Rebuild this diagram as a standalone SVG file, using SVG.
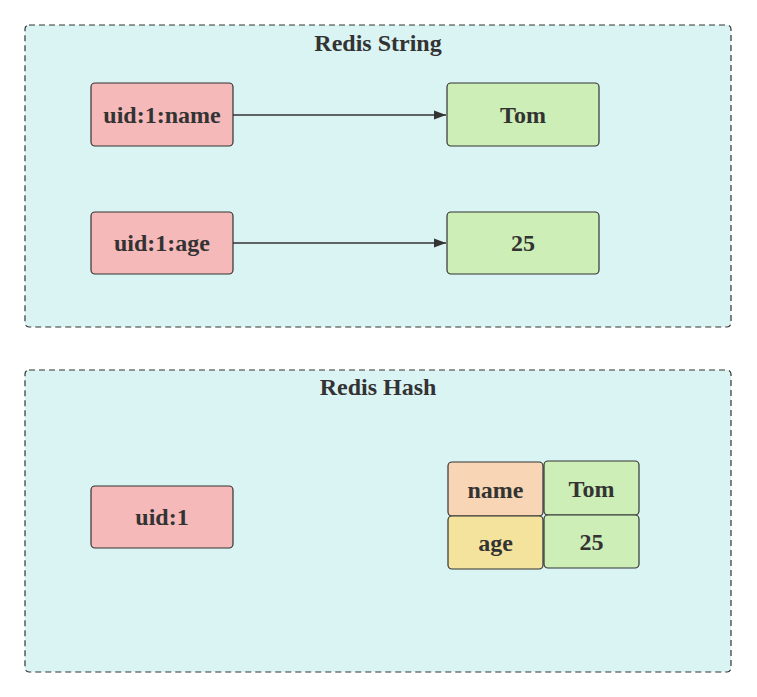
<svg xmlns="http://www.w3.org/2000/svg" width="757" height="697" viewBox="0 0 757 697">
<style>
.cont{fill:#daf4f4;stroke:#333;stroke-width:1.2;stroke-dasharray:6 4}
.node{stroke:#333;stroke-width:1.2}
.pink{fill:#f6b9b9}.green{fill:#cdeeb6}.orange{fill:#f8d5b5}.yellow{fill:#f3e39d}
text{font-family:"Liberation Serif","Times New Roman",serif;font-weight:bold;fill:#333;text-anchor:middle;dominant-baseline:central;font-size:24px}
.edge{stroke:#333;stroke-width:1.5;fill:none}
</style>
<defs>
<marker id="arr" viewBox="0 0 12 10" refX="12" refY="5" markerWidth="12" markerHeight="10" markerUnits="userSpaceOnUse" orient="auto"><path d="M0,0.5 L12,5 L0,9.5 z" fill="#333"/></marker>
</defs>
<g id="redis-string">
<rect class="cont" x="25" y="25" width="706" height="302" rx="4"/>
<text x="378" y="43">Redis String</text>
</g>
<g id="redis-hash">
<rect class="cont" x="25" y="370" width="706" height="302" rx="4"/>
<text x="378" y="387">Redis Hash</text>
</g>
<g id="connectors">
<line class="edge" x1="233" y1="115" x2="446" y2="115" marker-end="url(#arr)"/>
<line class="edge" x1="233" y1="243" x2="446" y2="243" marker-end="url(#arr)"/>
</g>
<g id="n-uid1name"><rect class="node pink" x="91" y="83" width="142" height="63" rx="4"/><text x="162" y="115">uid:1:name</text></g>
<g id="n-tom"><rect class="node green" x="447" y="83" width="152" height="63" rx="4"/><text x="523" y="115">Tom</text></g>
<g id="n-uid1age"><rect class="node pink" x="91" y="212" width="142" height="62" rx="4"/><text x="162" y="243">uid:1:age</text></g>
<g id="n-25"><rect class="node green" x="447" y="212" width="152" height="62" rx="4"/><text x="523" y="243">25</text></g>
<g id="n-uid1"><rect class="node pink" x="91" y="486" width="142" height="62" rx="4"/><text x="162" y="517">uid:1</text></g>
<g id="h-name"><rect class="node orange" x="448" y="462" width="95" height="54" rx="4"/><text x="495.5" y="490">name</text></g>
<g id="h-tom"><rect class="node green" x="544" y="461" width="95" height="54" rx="4"/><text x="591.5" y="489">Tom</text></g>
<g id="h-age"><rect class="node yellow" x="448" y="516" width="95" height="53" rx="4"/><text x="495.5" y="543">age</text></g>
<g id="h-25"><rect class="node green" x="544" y="515" width="95" height="53" rx="4"/><text x="591.5" y="542">25</text></g>
</svg>
